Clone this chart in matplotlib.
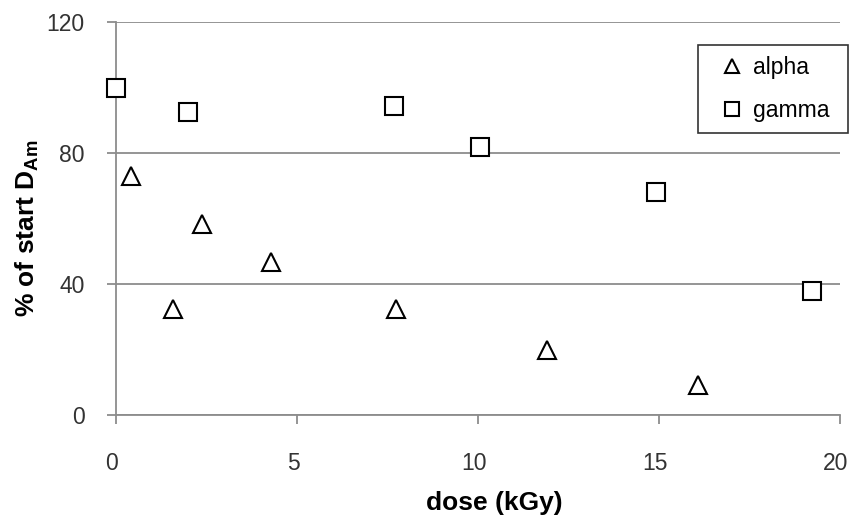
import matplotlib
matplotlib.use("Agg")
import matplotlib.pyplot as plt
import matplotlib.transforms as mtransforms

plt.rcParams['font.family'] = ['Liberation Sans', 'DejaVu Sans']
plt.rcParams['mathtext.fontset'] = 'custom'
plt.rcParams['mathtext.bf'] = 'Liberation Sans:bold'
plt.rcParams['mathtext.rm'] = 'Liberation Sans'

# values
alpha_dose = [0.41, 1.57, 2.38, 4.28, 7.73, 11.9, 16.07]
alpha_pct = [73.0, 32.3, 58.3, 46.8, 32.3, 19.8, 9.2]

gamma_dose = [0.0, 1.99, 7.68, 10.06, 14.93, 19.24]
gamma_pct = [99.9, 92.5, 94.4, 81.9, 68.2, 37.8]

xticks = [0, 5, 10, 15, 20]
yticks = [0, 40, 80, 120]

grey = '#8c8c8c'

fig = plt.figure(figsize=(8.5, 5.17), dpi=100)
ax = fig.add_axes([116/850, 1 - 415/517, (840 - 116)/850, (415 - 22)/517])

ax.plot(alpha_dose, alpha_pct, linestyle='none', marker='^', ms=13,
        mfc='white', mec='black', mew=1.5, label='alpha', clip_on=False, zorder=3)
ax.plot(gamma_dose, gamma_pct, linestyle='none', marker='s', ms=13,
        mfc='white', mec='black', mew=1.5, label='gamma', clip_on=False, zorder=3)

ax.set_xlim(0, 20)
ax.set_ylim(0, 120)
ax.set_xticks(xticks)
ax.set_yticks(yticks)
ax.yaxis.grid(True, color=grey, linewidth=1.3)
ax.set_axisbelow(True)

for s in ['top', 'right']:
    ax.spines[s].set_visible(False)
for s in ['left', 'bottom']:
    ax.spines[s].set_color(grey)
    ax.spines[s].set_linewidth(1.3)

ax.tick_params(axis='both', direction='out', length=6.5, width=1.3, color=grey,
               labelsize=16.5, labelcolor='#333333')
ax.tick_params(axis='x', pad=20)
ax.tick_params(axis='y', pad=16)

# excel puts the x labels a few pixels left of the ticks
shift = mtransforms.ScaledTranslation(-4/100, 0, fig.dpi_scale_trans)
for lbl in ax.get_xticklabels():
    lbl.set_transform(lbl.get_transform() + shift)

ax.set_xlabel('dose (kGy)', fontsize=19, fontweight='bold')
ax.xaxis.set_label_coords((494 - 116)/724, (415 - 503)/393)
ax.xaxis.label.set_va('center')
ax.set_ylabel(r'% of start D$_{\mathbf{Am}}$', fontsize=19, fontweight='bold')
ax.yaxis.set_label_coords((27 - 116)/724, (415 - 228)/393)
ax.yaxis.label.set_va('center')

leg = ax.legend(loc='upper left',
                bbox_to_anchor=(698/850, 1 - 136/517, 150/850, 91/517),
                bbox_transform=fig.transFigure, mode='expand', borderaxespad=0,
                fancybox=False, edgecolor='black', fontsize=16.5,
                handletextpad=-0.1, labelspacing=0.87, borderpad=0.48,
                handlelength=2.0, markerscale=0.8)
leg.get_frame().set_linewidth(1.2)

fig.savefig('out.png', dpi=100)
